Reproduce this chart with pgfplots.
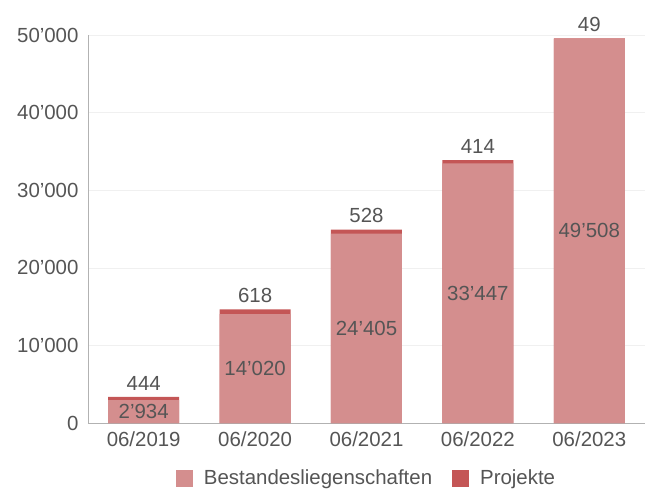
\documentclass[border=0pt]{standalone}
\usepackage{pgfplots}
\pgfplotsset{compat=1.18}
\usepackage{pgfplotstable}
\usepackage{fontspec}
\setmainfont{Liberation Sans}
\definecolor{bestand}{RGB}{212,142,142}
\definecolor{projekt}{RGB}{196,86,86}
\definecolor{txt}{RGB}{85,85,85}
\pgfplotstableread{
x b p blab plab
0 2934 444 2’934 444
1 14020 618 14’020 618
2 24405 528 24’405 528
3 33447 414 33’447 414
4 49508 49 49’508 49
}\data
\begin{document}
\begin{tikzpicture}
\path[use as bounding box] (-88bp,-70bp) rectangle (558bp,423bp);
\begin{axis}[
  at={(0,0)}, anchor=south west,
  scale only axis, width=557bp, height=388bp,
  xmin=-0.5, xmax=4.5, ymin=0, ymax=50000,
  clip=false, scaled y ticks=false,
  axis x line*=bottom, axis y line*=left,
  axis line style={draw=black!30, line width=0.8pt},
  xtick={0,1,2,3,4},
  xticklabels={06/2019,06/2020,06/2021,06/2022,06/2023},
  ytick={0,10000,20000,30000,40000,50000},
  yticklabels={0,10’000,20’000,30’000,40’000,50’000},
  major tick length=0pt,
  ymajorgrids, grid style={draw=black!6, line width=0.6pt},
  tick label style={font=\fontsize{20.5}{24}\selectfont, text=txt},
  xticklabel style={yshift=-5bp},
  yticklabel style={xshift=-6bp},
  legend style={at={(0.5,-0.11)}, anchor=north, draw=none, legend columns=2,
    font=\fontsize{20.5}{24}\selectfont, text=txt,
    /tikz/every odd column/.append style={column sep=9bp},
    /tikz/every even column/.append style={column sep=18bp}},
  legend image code/.code={\fill[#1] (0bp,-8.5bp) rectangle (17bp,8.5bp);},
]
\addplot[ybar, bar width=71bp, bar shift=0pt, draw=none, fill=projekt, forget plot,
  nodes near coords, point meta=explicit symbolic,
  every node near coord/.append style={font=\fontsize{20.5}{24}\selectfont, text=txt, anchor=south, yshift=3bp}]
  table[x=x, y expr=\thisrow{b}+\thisrow{p}, meta=plab]{\data};
\addplot[ybar, bar width=71bp, bar shift=0pt, draw=none, fill=bestand]
  table[x=x, y=b]{\data};
\addlegendentry{Bestandesliegenschaften}
\addlegendimage{fill=projekt, draw=none}
\addlegendentry{Projekte}
\addplot[draw=none, mark=none, forget plot,
  nodes near coords, point meta=explicit symbolic,
  every node near coord/.append style={font=\fontsize{20.5}{24}\selectfont, text=txt, anchor=center}]
  table[x=x, y expr=\thisrow{b}/2, meta=blab]{\data};
\end{axis}
\end{tikzpicture}
\end{document}
